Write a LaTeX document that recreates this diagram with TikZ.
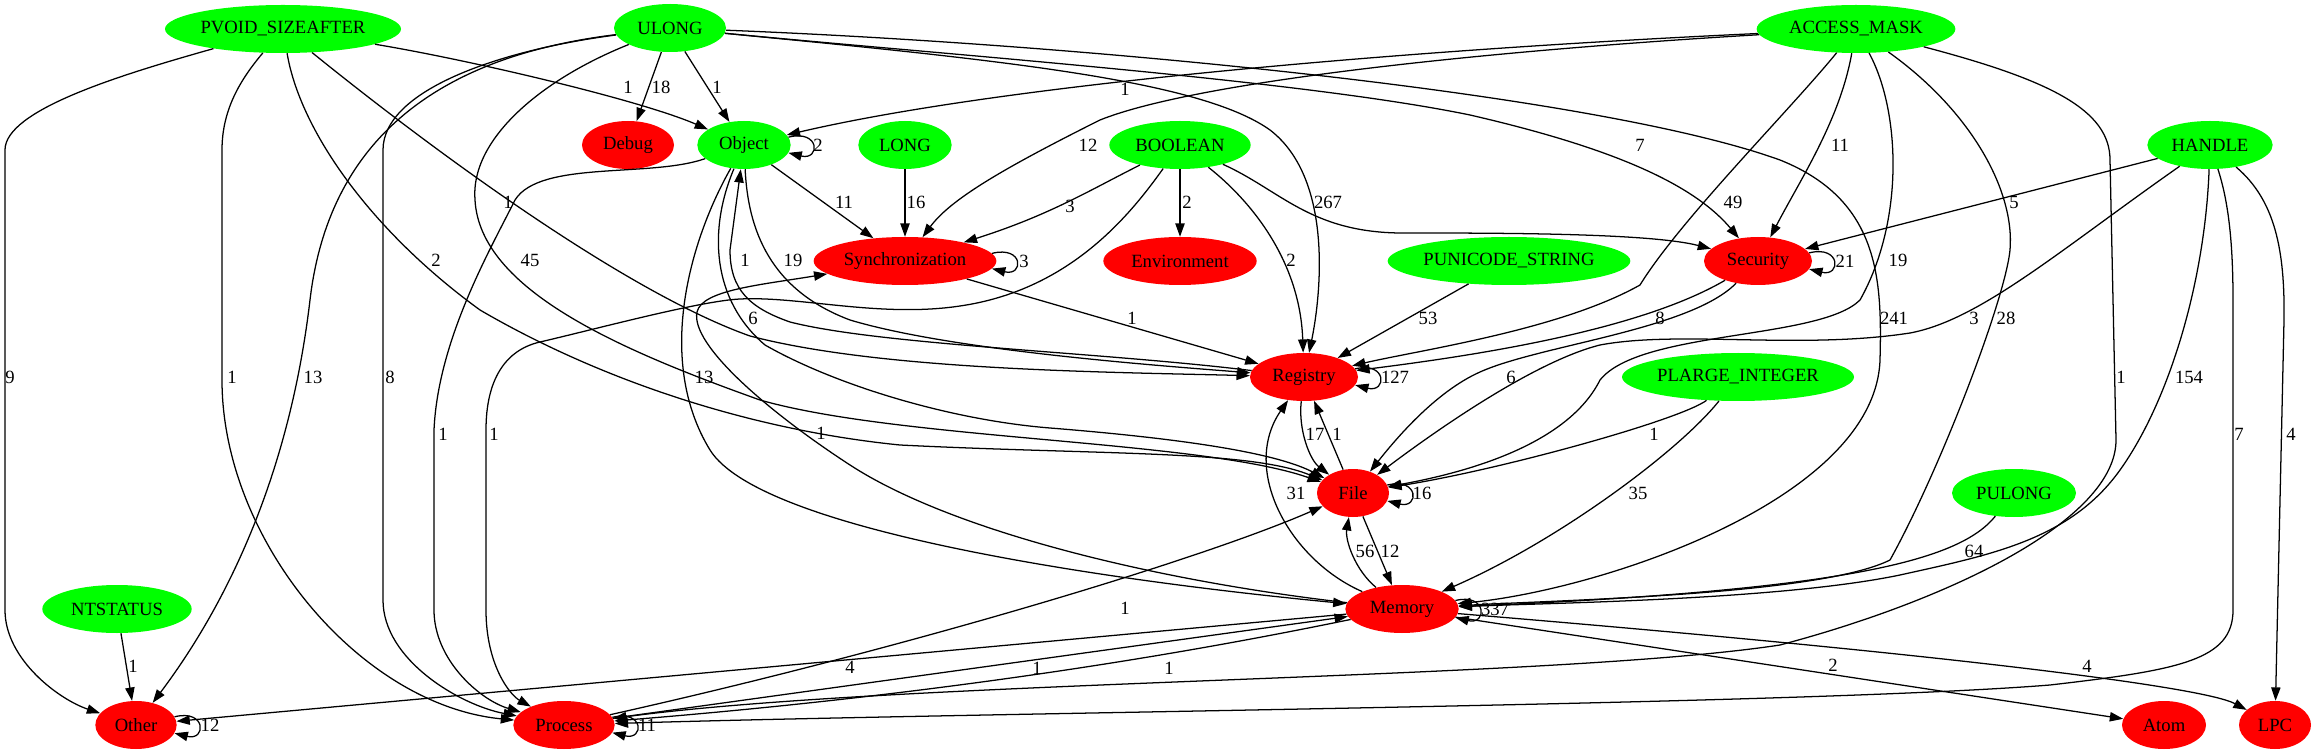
\documentclass[tikz,border=0pt]{standalone}
\usepackage{fontspec}
\setmainfont{Liberation Serif}
\usetikzlibrary{shapes.geometric,arrows.meta}
\definecolor{typegreen}{RGB}{0,255,0}
\definecolor{catred}{RGB}{255,0,0}

\begin{document}
\begin{tikzpicture}[x=0.75pt,y=-0.75pt,
        every node/.style={font=\fontsize{14}{16}\selectfont},
        tp/.style={ellipse,fill=typegreen,inner sep=0pt,minimum height=36pt,minimum width=#1},
        cat/.style={ellipse,fill=catred,inner sep=0pt,minimum height=36pt,minimum width=#1},
        dep/.style={-{Triangle[length=10pt,width=7pt]},line width=0.95pt},
        wt/.style={inner sep=0pt}]
        \useasboundingbox (0,0) rectangle (2316,755);

        \node[tp=177pt] (pv) at (283,29) {PVOID\_SIZEAFTER};
        \node[tp=84pt] (ulong) at (670,28) {ULONG};
        \node[tp=149pt] (amask) at (1856,29) {ACCESS\_MASK};
        \node[cat=69pt] (debug) at (628,145) {Debug};
        \node[tp=70pt] (object) at (744,145) {Object};
        \node[tp=70pt] (long) at (905,145) {LONG};
        \node[tp=106pt] (bool) at (1180,145) {BOOLEAN};
        \node[tp=94pt] (handle) at (2210,145) {HANDLE};
        \node[cat=137pt] (sync) at (905,261) {Synchronization};
        \node[cat=115pt] (env) at (1180,261) {Environment};
        \node[tp=182pt] (puni) at (1509,261) {PUNICODE\_STRING};
        \node[cat=81pt] (sec) at (1758,261) {Security};
        \node[cat=81pt] (reg) at (1304,377) {Registry};
        \node[tp=174pt] (plarge) at (1738,377) {PLARGE\_INTEGER};
        \node[cat=54pt] (file) at (1353,493) {File};
        \node[tp=93pt] (pulong) at (2014,493) {PULONG};
        \node[tp=112pt] (ntstatus) at (117,609) {NTSTATUS};
        \node[cat=85pt] (mem) at (1402,609) {Memory};
        \node[cat=61pt] (other) at (136,725) {Other};
        \node[cat=76pt] (proc) at (564,725) {Process};
        \node[cat=63pt] (atom) at (2164,725) {Atom};
        \node[cat=54pt] (lpc) at (2275,725) {LPC};

        \path[draw,dep] (pv) .. controls (120,75) and (5,110) .. (5,150) -- (5,610) .. controls (5,660) and (60,700) .. (other) node[wt] (e1) at (10,377) {9};
        \path[draw,dep] (pv) .. controls (240,80) and (222,110) .. (222,150) -- (222,380) .. controls (222,540) and (360,705) .. (proc) node[wt] (e2) at (232,377) {1};
        \path[draw,dep] (pv) .. controls (300,130) and (370,230) .. (480,310) .. controls (600,380) and (750,430) .. (900,445) .. controls (1100,455) and (1250,450) .. (file) node[wt] (e3) at (436,260) {2};
        \path[draw,dep] (pv) .. controls (420,140) and (620,290) .. (750,336) .. controls (880,370) and (1100,372) .. (reg) node[wt] (e4) at (508,202) {1};
        \path[draw,dep] (pv) .. controls (470,60) and (640,100) .. (object) node[wt] (e5) at (628,87) {1};

        \path[draw,dep] (ulong) -- (debug) node[wt] (e6) at (661,87) {18};
        \path[draw,dep] (ulong) -- (object) node[wt] (e7) at (717,87) {1};
        \path[draw,dep] (ulong) .. controls (450,55) and (330,130) .. (310,300) .. controls (290,470) and (230,600) .. (other) node[wt] (e8) at (313,377) {13};
        \path[draw,dep] (ulong) .. controls (500,50) and (383,90) .. (383,150) -- (383,600) .. controls (383,660) and (460,705) .. (proc) node[wt] (e9) at (390,377) {8};
        \path[draw,dep] (ulong) .. controls (540,80) and (470,140) .. (475,200) .. controls (480,290) and (620,350) .. (760,400) .. controls (900,440) and (1200,440) .. (file) node[wt] (e10) at (530,260) {45};
        \path[draw,dep] (ulong) .. controls (1000,60) and (1200,80) .. (1270,130) .. controls (1335,180) and (1320,300) .. (reg) node[wt] (e11) at (1328,202) {267};
        \path[draw,dep] (ulong) .. controls (950,55) and (1300,80) .. (1470,115) .. controls (1600,145) and (1690,180) .. (sec) node[wt] (e12) at (1640,145) {7};
        \path[draw,dep] (ulong) .. controls (1100,45) and (1600,95) .. (1780,160) .. controls (1880,200) and (1882,280) .. (1880,360) .. controls (1875,500) and (1600,590) .. (mem) node[wt] (e13) at (1894,318) {241};

        \path[draw,dep] (object) -- (sync) node[wt] (e14) at (844,202) {11};
        \path[draw,dep] (object.10) .. controls +(32,-8) and +(32,8) .. (object.-10) node[wt] (e15) at (818,145) {2};
        \path[draw,dep] (object) .. controls (650,178) and (540,160) .. (515,200) .. controls (490,250) and (438,340) .. (434,430) -- (434,610) .. controls (434,660) and (480,700) .. (proc) node[wt] (e16) at (443,434) {1};
        \path[draw,dep] (object) .. controls (690,240) and (655,360) .. (710,450) .. controls (760,530) and (1100,580) .. (mem) node[wt] (e17) at (704,377) {13};
        \path[draw,dep] (object) .. controls (748,230) and (770,290) .. (850,320) .. controls (950,350) and (1150,365) .. (reg) node[wt] (e18) at (793,260) {19};
        \path[draw,dep] (reg) .. controls (1100,352) and (880,345) .. (790,322) .. controls (750,308) and (730,290) .. (730,250) -- (object) node[wt] (e19) at (745,260) {1};
        \path[draw,dep] (object) .. controls (708,230) and (712,300) .. (765,345) .. controls (835,385) and (950,420) .. (1050,428) .. controls (1200,440) and (1280,455) .. (file) node[wt] (e20) at (753,318) {6};

        \path[draw,dep] (amask) .. controls (1400,50) and (1000,85) .. (object) node[wt] (e21) at (1125,89) {1};
        \path[draw,dep] (amask) .. controls (1500,50) and (1200,80) .. (1100,120) .. controls (1000,170) and (950,200) .. (sync) node[wt] (e22) at (1088,145) {12};
        \path[draw,dep] (amask) .. controls (1790,110) and (1680,220) .. (1640,285) .. controls (1560,330) and (1420,350) .. (reg) node[wt] (e23) at (1733,202) {49};
        \path[draw,dep] (amask) .. controls (1840,120) and (1800,180) .. (sec) node[wt] (e24) at (1840,145) {11};
        \path[draw,dep] (amask) .. controls (1900,110) and (1905,220) .. (1860,300) .. controls (1820,340) and (1640,330) .. (1600,380) .. controls (1570,440) and (1480,470) .. (file) node[wt] (e25) at (1898,260) {19};
        \path[draw,dep] (amask) .. controls (1970,110) and (2015,190) .. (2010,250) .. controls (2005,300) and (1940,470) .. (1890,560) .. controls (1820,595) and (1560,600) .. (mem) node[wt] (e26) at (2006,318) {28};
        \path[draw,dep] (amask) .. controls (2050,80) and (2110,110) .. (2110,160) -- (2116,440) .. controls (2116,520) and (1950,600) .. (1780,645) .. controls (1550,680) and (900,680) .. (proc) node[wt] (e27) at (2121,377) {1};

        \path[draw,dep] (handle) -- (sec) node[wt] (e28) at (2014,202) {5};
        \path[draw,dep] (handle) .. controls (2060,250) and (1980,320) .. (1910,333) .. controls (1800,350) and (1680,330) .. (1600,345) .. controls (1540,360) and (1450,420) .. (file) node[wt] (e29) at (1974,318) {3};
        \path[draw,dep] (handle) .. controls (2205,280) and (2170,400) .. (2120,470) .. controls (2070,540) and (1990,555) .. (1900,575) .. controls (1780,600) and (1550,603) .. (mem) node[wt] (e30) at (2189,377) {154};
        \path[draw,dep] (handle) .. controls (2228,200) and (2233,240) .. (2233,300) -- (2233,610) .. controls (2233,660) and (2180,670) .. (2050,685) .. controls (1800,705) and (1000,712) .. (proc) node[wt] (e31) at (2239,434) {7};
        \path[draw,dep] (handle) .. controls (2275,200) and (2285,250) .. (2284,320) -- (lpc) node[wt] (e32) at (2291,434) {4};

        \path[draw,dep] (long) -- (sync) node[wt] (e33) at (916,202) {16};
        \path[draw,dep] (bool) .. controls (1090,190) and (1050,215) .. (sync) node[wt] (e34) at (1070,206) {3};
        \path[draw,dep] (bool) -- (env) node[wt] (e35) at (1187,202) {2};
        \path[draw,dep] (bool) .. controls (1250,200) and (1300,260) .. (reg) node[wt] (e36) at (1291,260) {2};
        \path[draw,dep] (bool) .. controls (1280,190) and (1310,232) .. (1400,233) .. controls (1500,233) and (1650,233) .. (sec);
        \path[draw,dep] (bool) .. controls (1130,215) and (1070,290) .. (960,306) .. controls (880,318) and (800,296) .. (740,299) .. controls (700,301) and (600,328) .. (540,342) .. controls (505,350) and (486,380) .. (486,430) -- (486,610) .. controls (486,665) and (510,695) .. (proc) node[wt] (e37) at (494,434) {1};

        \path[draw,dep] (puni) -- (reg) node[wt] (e38) at (1428,318) {53};
        \path[draw,dep] (sync.5) .. controls +(32,-8) and +(32,8) .. (sync.-5) node[wt] (e39) at (1024,261) {3};
        \path[draw,dep] (sync) -- (reg) node[wt] (e40) at (1132,318) {1};

        \path[draw,dep] (sec.9) .. controls +(32,-8) and +(32,8) .. (sec.-9) node[wt] (e41) at (1845,261) {21};
        \path[draw,dep] (sec) .. controls (1640,330) and (1480,355) .. (reg) node[wt] (e42) at (1660,318) {8};
        \path[draw,dep] (sec) .. controls (1690,330) and (1540,345) .. (1480,372) .. controls (1435,392) and (1395,440) .. (file) node[wt] (e43) at (1511,377) {6};

        \path[draw,dep] (reg.9) .. controls +(32,-8) and +(32,8) .. (reg.-9) node[wt] (e44) at (1395,377) {127};
        \path[draw,dep] (reg) .. controls (1298,430) and (1310,460) .. (file) node[wt] (e45) at (1315,434) {17};
        \path[draw,dep] (file) -- (reg) node[wt] (e46) at (1337,434) {1};
        \path[draw,dep] (file.13) .. controls +(32,-8) and +(32,8) .. (file.-13) node[wt] (e47) at (1422,493) {16};
        \path[draw,dep] (file) -- (mem) node[wt] (e48) at (1390,551) {12};

        \path[draw,dep] (plarge) .. controls (1680,420) and (1500,470) .. (file) node[wt] (e49) at (1654,434) {1};
        \path[draw,dep] (plarge) .. controls (1680,450) and (1560,540) .. (mem) node[wt] (e50) at (1638,493) {35};
        \path[draw,dep] (pulong) .. controls (1960,560) and (1850,590) .. (mem) node[wt] (e51) at (1974,551) {64};

        \path[draw,dep] (mem.9) .. controls +(32,-8) and +(32,8) .. (mem.-9) node[wt] (e52) at (1495,609) {337};
        \path[draw,dep] (mem) .. controls (1290,560) and (1240,470) .. (reg) node[wt] (e53) at (1296,493) {31};
        \path[draw,dep] (mem) .. controls (1355,570) and (1345,540) .. (file) node[wt] (e54) at (1365,551) {56};
        \path[draw,dep] (mem) .. controls (1150,580) and (950,530) .. (850,465) .. controls (770,413) and (690,345) .. (697,312) .. controls (702,290) and (760,285) .. (sync) node[wt] (e55) at (821,433) {1};
        \path[draw,dep] (mem) -- (other) node[wt] (e56) at (850,667) {4};
        \path[draw,dep] (proc) -- (mem) node[wt] (e57) at (1037,668) {1};
        \path[draw,dep] (mem) .. controls (1250,640) and (1000,690) .. (proc) node[wt] (e58) at (1169,668) {1};
        \path[draw,dep] (proc) .. controls (900,650) and (1200,560) .. (file) node[wt] (e59) at (1125,608) {1};
        \path[draw,dep] (mem) .. controls (1900,650) and (2200,685) .. (lpc) node[wt] (e60) at (2087,666) {4};
        \path[draw,dep] (mem) -- (atom) node[wt] (e61) at (1833,665) {2};

        \path[draw,dep] (ntstatus) -- (other) node[wt] (e62) at (133,666) {1};
        \path[draw,dep] (other.12) .. controls +(32,-8) and +(32,8) .. (other.-12) node[wt] (e63) at (210,725) {12};
        \path[draw,dep] (proc.9) .. controls +(32,-8) and +(32,8) .. (proc.-9) node[wt] (e64) at (647,725) {11};
    \end{tikzpicture}
\end{document}
